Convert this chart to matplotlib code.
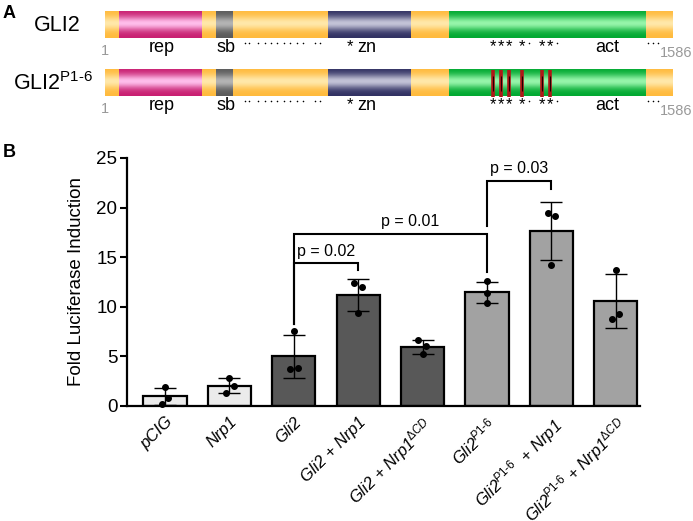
import numpy as np
import matplotlib
matplotlib.use('Agg')
import matplotlib.pyplot as plt

plt.rcParams['font.family'] = ['Liberation Sans', 'DejaVu Sans']
plt.rcParams['mathtext.fontset'] = 'custom'
plt.rcParams['mathtext.rm'] = 'Liberation Sans'
plt.rcParams['mathtext.it'] = 'Liberation Sans:italic'
plt.rcParams['mathtext.bf'] = 'Liberation Sans:bold'

# ---------------- Panel B data ----------------
conditions = ['pCIG', 'Nrp1', 'Gli2', 'Gli2 + Nrp1',
              'Gli2 + Nrp1$^{\\mathit{ΔCD}}$',
              'Gli2$^{\\mathit{P1\\text{-}6}}$',
              'Gli2$^{\\mathit{P1\\text{-}6}}$  + Nrp1',
              'Gli2$^{\\mathit{P1\\text{-}6}}$ + Nrp1$^{\\mathit{ΔCD}}$']
means = [0.96, 2.06, 5.03, 11.22, 5.95, 11.45, 17.62, 10.58]
sds = [0.89, 0.76, 2.16, 1.63, 0.71, 1.10, 2.95, 2.68]
rep1 = [1.88, 2.82, 7.52, 12.36, 6.61, 12.59, 19.50, 13.70]
rep2 = [0.84, 2.05, 3.73, 11.96, 6.04, 11.38, 19.16, 9.26]
rep3 = [0.17, 1.31, 3.83, 9.34, 5.20, 10.38, 14.20, 8.79]
jit1 = [0.00, 0.00, 0.00, -0.06, -0.07, 0.00, -0.06, 0.00]
jit2 = [0.05, 0.07, -0.06, 0.06, 0.06, 0.00, 0.06, 0.05]
jit3 = [-0.05, -0.05, 0.07, 0.00, 0.00, 0.00, 0.00, -0.06]
bar_colors = ['#ebebeb', '#ebebeb', '#585858', '#585858', '#585858',
              '#a2a2a2', '#a2a2a2', '#a2a2a2']
# brackets: (left idx, right idx, height, left leg end, right leg end, label, label x)
brackets = [(2, 3, 14.4, 8.3, 13.75, 'p = 0.02', 2.5),
            (2, 5, 17.38, 8.3, 13.5, 'p = 0.01', 3.8),
            (5, 6, 22.7, 18.1, 21.9, 'p = 0.03', 5.5)]

# ---------------- Panel A data ----------------
prot_len = 1586
domain_names = ['rep', 'sb', 'zn', 'act']
domain_start = [40, 312, 624, 964]
domain_end = [270, 359, 856, 1512]
label_pos = [161, 338, 734, 1404]
mut_sites = [1085, 1107, 1130, 1167, 1223, 1245]
dot_sites = [392, 404, 429, 447, 465, 483, 501, 518, 537, 555, 588, 602,
             1187, 1264, 1519, 1533, 1547]
extra_star = [685]

W, H = 693, 521
fig = plt.figure(figsize=(W / 100, H / 100), dpi=100)

# ---------------- Panel A ----------------
px0, px1 = 105, 672
s = (px1 - px0) / (prot_len - 1)
axA = fig.add_axes([0, 1 - 120 / H, 1, 120 / H])
axA.set_xlim(1 - px0 / s, prot_len + (W - px1) / s)
axA.set_ylim(120, 0)
axA.axis('off')


def grad_img(edge, center, n=64):
    t = np.linspace(0, 1, n)
    w = np.exp(-((t - 0.45) / 0.26) ** 2)
    e = np.array(edge) / 255.0
    c = np.array(center) / 255.0
    img = e[None, :] + (c - e)[None, :] * w[:, None]
    return img[:, None, :]


orange = grad_img((255, 186, 60), (255, 232, 170))
dom_grads = [grad_img((200, 30, 112), (255, 190, 235)),
             grad_img((90, 90, 90), (180, 180, 180)),
             grad_img((48, 48, 98), (195, 195, 215)),
             grad_img((0, 168, 48), (150, 245, 170))]

row_tops = [12, 70]
bar_h = 26.5
row_names = ['GLI2', 'GLI2$^{\\mathregular{P1\\text{-}6}}$']
row_name_x = [57.5, 53.5]
for r, top in enumerate(row_tops):
    bot = top + bar_h
    axA.imshow(orange, extent=[1, prot_len, bot, top], aspect='auto',
               interpolation='bilinear', zorder=1)
    for i in range(len(domain_names)):
        axA.imshow(dom_grads[i], extent=[domain_start[i], domain_end[i], bot, top],
                   aspect='auto', interpolation='bilinear', zorder=2)
    if r == 1:
        axA.vlines(mut_sites, top, bot, color='#b01818', lw=2.6, zorder=3)
        axA.vlines(mut_sites, top + 6, bot - 6, color='#200000', lw=0.8, zorder=4)
    base = top + 40
    for i, nm in enumerate(domain_names):
        axA.text(label_pos[i], base, nm, fontsize=13, ha='center', va='baseline')
    for xs in mut_sites + extra_star:
        axA.text(xs, top + 39.5, '*', fontsize=12, ha='center', va='baseline')
    axA.scatter(dot_sites, [top + 31] * len(dot_sites), s=1.3, color='black',
                linewidths=0, zorder=5)
    axA.text(1, top + 43, '1', fontsize=10.5, color='#999999', ha='center',
             va='baseline')
    fig.text(692 / W, 1 - (top + 45) / H, '1586', fontsize=10.5,
             color='#999999', ha='right', va='baseline')
    fig.text(row_name_x[r] / W, 1 - (top + bar_h / 2) / H, row_names[r],
             fontsize=15.5, ha='center', va='center')

fig.text(9 / W, 1 - 13 / H, 'A', fontsize=13, fontweight='bold',
         ha='center', va='center')
fig.text(9 / W, 1 - 153 / H, 'B', fontsize=13, fontweight='bold',
         ha='center', va='center')

# ---------------- Panel B ----------------
ax_l, ax_r, ax_t, ax_b = 127, 640, 158, 406
ax = fig.add_axes([ax_l / W, 1 - ax_b / H, (ax_r - ax_l) / W, (ax_b - ax_t) / H])
x = np.arange(len(conditions))
ax.bar(x, means, width=0.67, color=bar_colors, edgecolor='black',
       linewidth=1.6, zorder=2)
ax.errorbar(x, means, yerr=sds, fmt='none', ecolor='black', elinewidth=1.0,
            capsize=8, capthick=1.0, zorder=3)
for reps, jit in [(rep1, jit1), (rep2, jit2), (rep3, jit3)]:
    ax.scatter(x + np.array(jit), reps, s=16, color='black', zorder=4,
               clip_on=False)
for (i1, i2, yb, yl, yr, lab, lx) in brackets:
    ax.plot([i1, i1, i2, i2], [yl, yb, yb, yr], color='black', lw=1.5,
            zorder=5, clip_on=False, solid_joinstyle='miter')
    ax.text(lx, yb + 0.45, lab, fontsize=11.5, ha='center', va='bottom')

ax.set_xlim(-0.59, 7.376)
ax.set_ylim(0, 25)
ax.set_yticks([0, 5, 10, 15, 20, 25])
ax.tick_params(axis='y', labelsize=13.5, width=1.5, length=5, pad=2)
ax.tick_params(axis='x', length=0, pad=6)
ax.set_xticks(x)
ax.set_xticklabels(conditions, rotation=45, ha='right', rotation_mode='anchor',
                   fontsize=12, fontstyle='italic')
for sp in ['top', 'right']:
    ax.spines[sp].set_visible(False)
for sp in ['left', 'bottom']:
    ax.spines[sp].set_linewidth(1.6)
ax.set_ylabel('Fold Luciferase Induction', fontsize=13.5, labelpad=8)

fig.savefig('out.png', dpi=100)
